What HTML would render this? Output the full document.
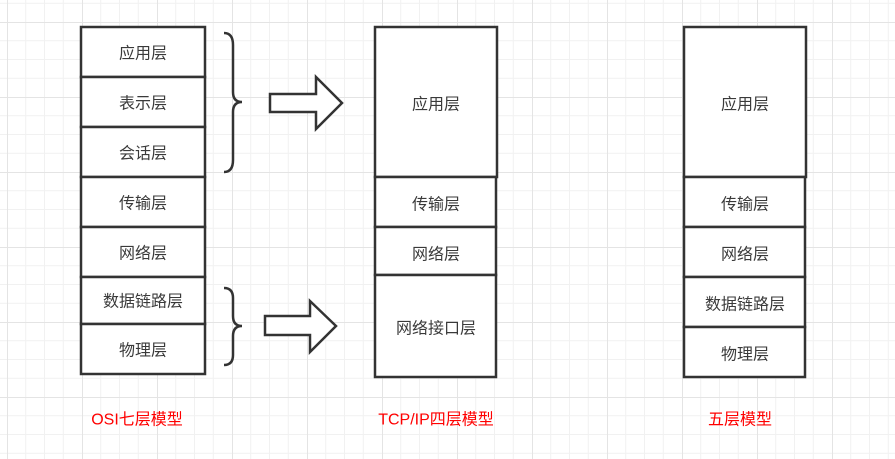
<!DOCTYPE html>
<html><head><meta charset="utf-8"><style>
html,body{margin:0;padding:0;background:#fff}
svg{display:block}
text{font-family:"Liberation Sans","Noto Sans CJK SC",sans-serif;font-size:16px;fill:#3a3a3a;text-anchor:middle;dominant-baseline:central}
.r{fill:#ff0000}
.b{fill:#fff;stroke:#333;stroke-width:2.5}
</style></head><body>
<svg width="895" height="459" viewBox="0 0 895 459" xmlns="http://www.w3.org/2000/svg">
<defs>
<pattern id="g" x="7" y="22" width="75" height="75" patternUnits="userSpaceOnUse">
<path d="M18.75 0V75M37.5 0V75M56.25 0V75M0 18.75H75M0 37.5H75M0 56.25H75" stroke="#f1f1f1" stroke-width="1"/>
<path d="M0.5 0V75M0 0.5H75" stroke="#e4e4e4" stroke-width="1"/>
</pattern>
</defs>
<rect width="895" height="459" fill="url(#g)"/>
<g transform="translate(0,2)">
<text x="143" y="52">应用层</text>
</g>
<!-- OSI -->
<rect class="b" x="81" y="27" width="124" height="50"/>
<rect class="b" x="81" y="77" width="124" height="50"/>
<rect class="b" x="81" y="127" width="124" height="50"/>
<rect class="b" x="81" y="177" width="124" height="50"/>
<rect class="b" x="81" y="227" width="124" height="50"/>
<rect class="b" x="81" y="277" width="124" height="47"/>
<rect class="b" x="81" y="324" width="124" height="50"/>
<path d="M224 33Q233 33 233 45V92Q233 102 242 102Q233 102 233 112V160Q233 172 224 172" fill="none" stroke="#333" stroke-width="2.5"/>
<path d="M224 288Q233 288 233 298V316Q233 326 242 326Q233 326 233 336V355Q233 365 224 365" fill="none" stroke="#333" stroke-width="2.5"/>
<path class="b" d="M270 94H316V77L342 103L316 129V112H270Z"/>
<path class="b" d="M265 316H310V301L336 326L310 352V335H265Z"/>
<!-- TCP/IP -->
<rect class="b" x="375" y="27" width="122" height="150"/>
<rect class="b" x="375" y="177" width="121" height="50"/>
<rect class="b" x="375" y="227" width="121" height="48"/>
<rect class="b" x="375" y="275" width="121" height="102"/>
<!-- Five -->
<rect class="b" x="684" y="27" width="122" height="150"/>
<rect class="b" x="684" y="177" width="121" height="50"/>
<rect class="b" x="684" y="227" width="121" height="50"/>
<rect class="b" x="684" y="277" width="121" height="50"/>
<rect class="b" x="684" y="327" width="121" height="50"/>
<g transform="translate(0,2)">
<text x="143" y="52">应用层</text>
<text x="143" y="102">表示层</text>
<text x="143" y="152">会话层</text>
<text x="143" y="202">传输层</text>
<text x="143" y="252">网络层</text>
<text x="143" y="300">数据链路层</text>
<text x="143" y="349">物理层</text>
<text class="r" x="137" y="418">OSI七层模型</text>
<text x="436" y="103">应用层</text>
<text x="436" y="203">传输层</text>
<text x="436" y="253">网络层</text>
<text x="436" y="327">网络接口层</text>
<text class="r" x="436" y="418">TCP/IP四层模型</text>
<text x="745" y="103">应用层</text>
<text x="745" y="203">传输层</text>
<text x="745" y="253">网络层</text>
<text x="745" y="303">数据链路层</text>
<text x="745" y="353">物理层</text>
<text class="r" x="740" y="418">五层模型</text>
</g>
</svg>
</body></html>
